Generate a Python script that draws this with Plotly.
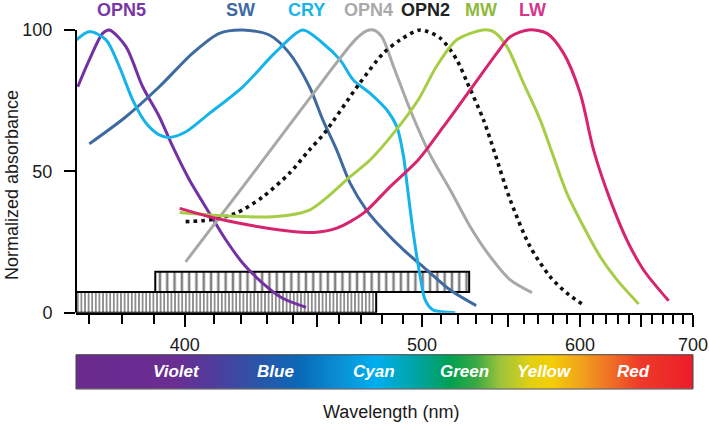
import numpy as np
import plotly.graph_objects as go

# ---------------- data (wavelength in nm, normalized absorbance in %) ----------------
opn5_nm = [366.9, 370.2, 374.1, 376.1, 381.1, 386.3, 391.6, 396.0, 401.6, 408.5, 414.4, 420.6, 428.2, 436.0, 445.6]
opn5_abs = [79.9, 89.4, 98.8, 100.0, 94.1, 79.9, 69.3, 58.7, 46.9, 35.2, 25.7, 17.5, 10.4, 5.1, 1.9]

sw_nm = [370.2, 381.1, 391.6, 402.7, 412.0, 420.6, 430.7, 438.7, 447.0, 452.7, 458.8, 464.8, 472.4, 480.5,
         490.5, 502.6, 515.4, 530.3]
sw_abs = [59.7, 69.3, 79.9, 91.8, 98.8, 100.0, 98.2, 91.8, 79.9, 68.2, 57.5, 45.8, 36.3, 29.3,
          22.2, 15.1, 8.0, 2.5]

cry_nm = [366.5, 370.2, 375.1, 379.1, 383.2, 387.4, 391.6, 394.9, 400.4, 408.5, 420.6, 433.4, 444.2, 452.7,
          460.3, 466.3, 474.1, 482.2, 487.1, 490.5, 492.2, 495.5, 499.1, 501.7, 505.8, 518.2]
cry_abs = [96.5, 99.4, 96.5, 87.0, 75.2, 67.0, 62.9, 62.0, 64.0, 70.5, 79.9, 92.3, 100.0, 95.3,
           89.4, 82.3, 77.6, 71.7, 65.8, 55.2, 45.8, 28.1, 12.7, 4.5, 1.0, 0.0]

opn4_nm = [400.3, 425.6, 454.1, 467.1, 472.2, 475.7, 479.7, 485.5, 493.9, 504.4, 515.4, 526.8, 538.8, 551.3, 565.6]
opn4_abs = [18.0, 50.7, 83.5, 96.5, 99.6, 100.0, 97.6, 87.0, 71.7, 55.8, 43.4, 30.4, 19.8, 11.6, 7.1]

opn2_nm = [400.3, 408.5, 418.1, 428.2, 438.7, 447.0, 453.4, 468.6, 480.5, 488.8, 499.1, 509.8, 519.1, 524.9,
           534.7, 541.6, 551.3, 564.4, 578.2, 590.2, 602.7]
opn2_abs = [32.2, 32.8, 35.2, 41.0, 49.3, 57.6, 63.5, 80.5, 91.8, 96.5, 100.0, 97.1, 89.4, 81.6,
            68.2, 56.4, 39.9, 23.3, 12.7, 6.9, 2.7]

mw_nm = [398.3, 414.4, 433.4, 447.0, 454.1, 464.8, 474.1, 485.5, 498.0, 507.7, 519.1, 534.7, 540.8,
         549.2, 560.0, 571.2, 580.5, 590.2, 602.7, 615.7, 629.4, 648.0]
mw_abs = [35.4, 34.2, 34.0, 36.3, 40.5, 48.1, 54.0, 63.5, 75.2, 87.0, 96.5, 100.0, 99.4,
          94.1, 81.1, 68.2, 55.2, 42.2, 30.4, 19.8, 11.6, 3.1]

lw_nm = [398.3, 410.8, 426.6, 440.1, 449.0, 458.8, 471.0, 483.8, 498.0, 511.6, 526.8, 542.9, 551.3, 563.3,
         575.9, 587.7, 600.1, 610.4, 623.8, 637.8, 652.4, 675.7]
lw_abs = [36.9, 33.4, 30.4, 28.7, 28.4, 29.9, 35.2, 44.6, 54.0, 65.8, 78.8, 91.8, 97.6, 100.0,
          98.8, 91.8, 77.6, 57.6, 39.9, 25.7, 15.1, 4.2]

# hatched wavelength ranges
box_upper_nm = [390.3, 526.2]
box_upper_abs = [7.3, 14.5]
box_lower_nm = [366.4, 477.0]
box_lower_abs = [0.0, 7.3]

# curve labels (name, centre wavelength)
label_names = ["OPN5", "SW", "CRY", "OPN4", "OPN2", "MW", "LW"]
label_nm = [379.8, 419.9, 445.9, 473.3, 501.7, 533.3, 566.1]

# spectrum band labels
band_names = ["Violet", "Blue", "Cyan", "Green", "Yellow", "Red"]
band_nm = [397.3, 433.0, 476.0, 523.3, 574.0, 643.3]

# axes
x_range_nm = [366.4, 700]
major_ticks_nm = [400, 450, 500, 550, 600, 650, 700]
major_tick_text = ["400", "", "500", "", "600", "", "700"]
minor_ticks_nm = [370, 380, 390, 410, 420, 430, 440, 460, 470, 480, 490, 510, 520, 530, 540,
                  560, 570, 580, 590, 610, 620, 630, 640, 660, 670, 680, 690]
y_ticks = [0, 50, 100]

# ---------------- styling ----------------
FONT = "Liberation Sans, Arial, Helvetica, sans-serif"
colors = {
    "OPN5": "#7331a3", "SW": "#3f6a9f", "CRY": "#16b3ea", "OPN4": "#a8a8a8",
    "OPN2": "#111111", "MW": "#a5cd46", "LW": "#d7246f",
}
label_colors = {
    "OPN5": "#7a36a8", "SW": "#3f6a9f", "CRY": "#18b4ea", "OPN4": "#aaaaaa",
    "OPN2": "#222222", "MW": "#8fba3e", "LW": "#d3368a",
}
spectrum_stops = [
    (0.000, "#6a2a8e"), (0.160, "#6a2d92"), (0.233, "#4a409d"), (0.306, "#2459ab"),
    (0.363, "#0a69b8"), (0.428, "#0a90d6"), (0.485, "#00aeef"), (0.558, "#00a39a"),
    (0.606, "#00a052"), (0.647, "#3aa844"), (0.687, "#9cc43c"), (0.736, "#e2d012"),
    (0.768, "#f3cf05"), (0.817, "#f2a31c"), (0.865, "#f07024"), (0.914, "#ee3a2a"),
    (1.000, "#ec1c2a"),
]

# pixel geometry helpers (plot area: x 76..693, y 24..389)
PLOT_TOP, PLOT_BOTTOM = 24, 389
PLOT_H = PLOT_BOTTOM - PLOT_TOP


def pos(nm):
    """Axis is linear in wavenumber: map wavelength to -1e4/nm."""
    return -1e4 / np.asarray(nm, dtype=float)


def ypaper(px):
    return (PLOT_BOTTOM - px) / PLOT_H


fig = go.Figure()

# hatched boxes (drawn first, under the curves)
for rng, ab, size, sol in [(box_lower_nm, box_lower_abs, 3.6, 0.45), (box_upper_nm, box_upper_abs, 7.3, 0.34)]:
    b0 = float(pos(rng[0]))
    b1 = float(pos(rng[1]))
    fig.add_trace(go.Bar(
        orientation="h", y=[(ab[0] + ab[1]) / 2], width=[ab[1] - ab[0]],
        base=[b0], x=[b1 - b0],
        marker=dict(color="white", line=dict(color="black", width=2),
                    pattern=dict(shape="|", size=size, solidity=sol,
                                 fgcolor="black", bgcolor="white", fillmode="overlay")),
        showlegend=False, hoverinfo="skip",
    ))

series = [
    ("OPN5", opn5_nm, opn5_abs), ("SW", sw_nm, sw_abs), ("CRY", cry_nm, cry_abs),
    ("OPN4", opn4_nm, opn4_abs), ("OPN2", opn2_nm, opn2_abs), ("MW", mw_nm, mw_abs),
    ("LW", lw_nm, lw_abs),
]
for name, nm, ab in series:
    if name == "OPN2":
        line = dict(color=colors[name], width=3.6, dash="3.6px,4.2px", shape="spline", smoothing=0.8)
    else:
        line = dict(color=colors[name], width=3, shape="spline", smoothing=0.8)
    fig.add_trace(go.Scatter(x=pos(nm), y=ab, mode="lines", line=line, name=name,
                             showlegend=False, hoverinfo="skip"))

# spectrum strip
spec_x = np.linspace(pos(x_range_nm[0]), pos(x_range_nm[1]), 600)
frac = (spec_x - spec_x[0]) / (spec_x[-1] - spec_x[0])
fig.add_trace(go.Heatmap(
    x=spec_x, y=[0, 1], z=[frac, frac], colorscale=[list(s) for s in spectrum_stops],
    zmin=0, zmax=1, showscale=False, zsmooth="best", xaxis="x", yaxis="y2", hoverinfo="skip",
))

annotations = []
for name, nm in zip(label_names, label_nm):
    annotations.append(dict(
        x=float(pos(nm)), y=ypaper(10), xref="x", yref="paper", text=f"<b>{name}</b>",
        showarrow=False, xanchor="center", yanchor="middle",
        font=dict(family=FONT, size=18, color=label_colors[name]),
    ))
for name, nm in zip(band_names, band_nm):
    annotations.append(dict(
        x=float(pos(nm)), y=0.5, xref="x", yref="y2 domain", text=f"<b><i>{name}</i></b>",
        showarrow=False, xanchor="center", yanchor="middle",
        font=dict(family=FONT, size=17, color="white"),
    ))
annotations.append(dict(
    x=(12 - 76) / 617, y=ypaper(185), xref="paper", yref="paper",
    text="Normalized absorbance", textangle=-90, showarrow=False,
    xanchor="center", yanchor="middle", font=dict(family=FONT, size=18, color="#1a1a1a"),
))
annotations.append(dict(
    x=(390.8 - 76) / 617, y=ypaper(411.7), xref="paper", yref="paper",
    text="Wavelength (nm)", showarrow=False, xanchor="center", yanchor="middle",
    font=dict(family=FONT, size=18, color="#1a1a1a"),
))

shapes = [
    dict(type="line", xref="x domain", yref="y", x0=0, x1=0, y0=0, y1=100,
         line=dict(color="black", width=2)),
    dict(type="rect", xref="x domain", yref="y2 domain", x0=0, x1=1, y0=0, y1=1,
         line=dict(color="#444444", width=1)),
]

fig.update_layout(
    template="none",
    width=709, height=424,
    margin=dict(l=76, r=16, t=24, b=35, autoexpand=False),
    paper_bgcolor="white", plot_bgcolor="white",
    barmode="overlay", showlegend=False,
    font=dict(family=FONT, size=18, color="#1a1a1a"),
    xaxis=dict(
        domain=[0, 1], anchor="y", automargin=False,
        range=[float(pos(x_range_nm[0])), float(pos(x_range_nm[1]))],
        tickmode="array", tickvals=pos(major_ticks_nm), ticktext=major_tick_text,
        ticks="outside", ticklen=12, tickwidth=2, tickcolor="black",
        minor=dict(tickmode="array", tickvals=pos(minor_ticks_nm), ticks="outside",
                   ticklen=9, tickwidth=1.6, tickcolor="black", showgrid=False),
        showline=True, linecolor="black", linewidth=2,
        showgrid=False, zeroline=False, ticklabelstandoff=3,
        tickfont=dict(family=FONT, size=18, color="#1a1a1a"),
    ),
    yaxis=dict(
        domain=[ypaper(312.7), 1], anchor="x", automargin=False, range=[0, 102.1],
        tickmode="array", tickvals=y_ticks, ticks="outside", ticklen=11, tickwidth=2,
        tickcolor="black", showline=False, showgrid=False, zeroline=False,
        ticklabelstandoff=8, tickfont=dict(family=FONT, size=18, color="#1a1a1a"),
    ),
    yaxis2=dict(domain=[0, ypaper(354.7)], anchor="x", automargin=False, range=[-0.5, 1.5],
                visible=False, showgrid=False, zeroline=False),
    annotations=annotations,
    shapes=shapes,
)

fig.write_html(
    "out.html",
    config={"displayModeBar": False},
    post_script="document.body.style.margin='0';document.body.style.overflow='hidden';",
)
